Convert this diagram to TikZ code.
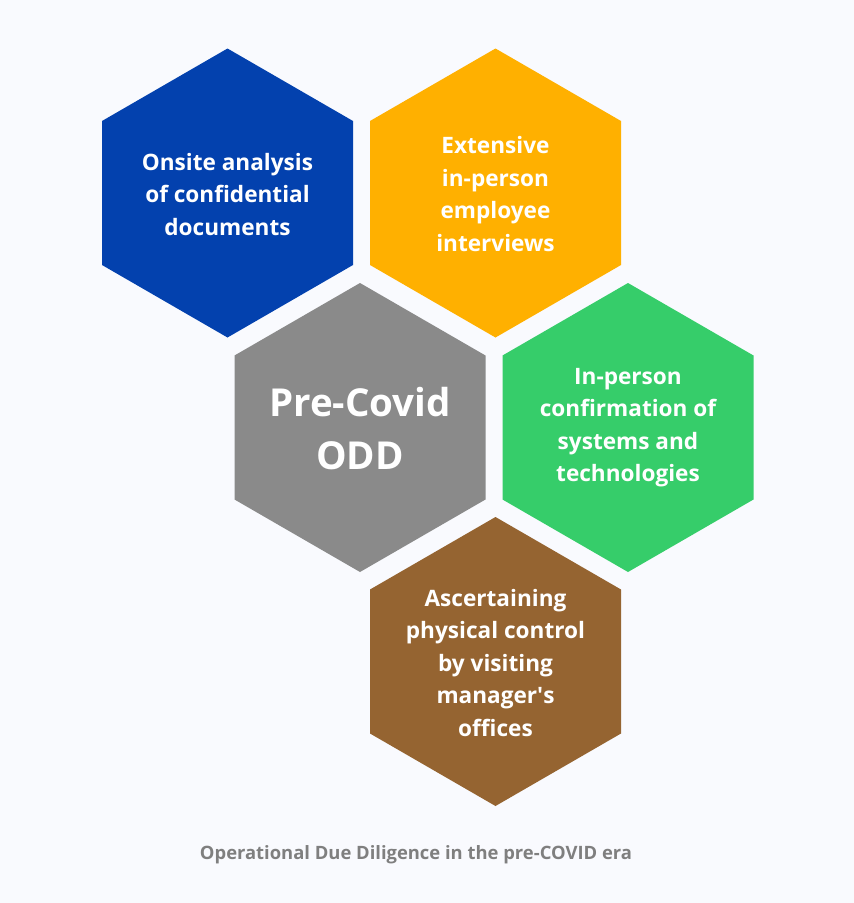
\documentclass[tikz,border=0pt]{standalone}
\usepackage{fontspec}
\setmainfont{Open Sans}
\definecolor{bgc}{HTML}{F9FAFE}
\definecolor{hblue}{HTML}{0341AE}
\definecolor{hyellow}{HTML}{FFB000}
\definecolor{hgray}{HTML}{8A8A8A}
\definecolor{hgreen}{HTML}{36CD6A}
\definecolor{hbrown}{HTML}{956431}
\definecolor{capc}{HTML}{7F7F7F}
\tikzset{
  hexlabel/.style={align=center,text=white,font=\bfseries\fontsize{22.6bp}{32.5bp}\selectfont,inner sep=0pt},
  biglabel/.style={align=center,text=white,font=\bfseries\fontsize{38.5bp}{53bp}\selectfont,inner sep=0pt},
  caplabel/.style={text=capc,font=\bfseries\fontsize{18.4bp}{22bp}\selectfont,inner sep=0pt}
}
\newcommand{\hexa}[3]{\fill[#3] (#1,-#2) ++(0,144.5) -- ++(125.5,-72.5) -- ++(0,-144) -- ++(-125.5,-72.5) -- ++(-125.5,72.5) -- ++(0,144) -- cycle;}
\begin{document}
\begin{tikzpicture}[x=1bp,y=1bp]
\useasboundingbox (0,0) rectangle (854,-903);
\fill[bgc] (0,0) rectangle (854,-903);
\hexa{227.5}{193}{hblue}
\hexa{495.5}{193}{hyellow}
\hexa{360}{427.5}{hgray}
\hexa{628}{427.5}{hgreen}
\hexa{495.5}{661.5}{hbrown}
\node[hexlabel] (a) at (227.5,-194.2) {Onsite analysis\\of confidential\\documents};
\node[hexlabel] (b) at (495.5,-194) {Extensive\\in-person\\employee\\interviews};
\node[biglabel] (c) at (360,-428.5) {Pre-Covid\\ODD};
\node[hexlabel] (d) at (628,-427.5) {In-person\\confirmation of\\systems and\\technologies};
\node[hexlabel] (e) at (495.5,-662.6) {Ascertaining\\physical control\\by visiting\\manager\textquotesingle s\\offices};
\node[caplabel] (f) at (416,-854.5) {Operational Due Diligence in the pre-COVID era};
\end{tikzpicture}
\end{document}
